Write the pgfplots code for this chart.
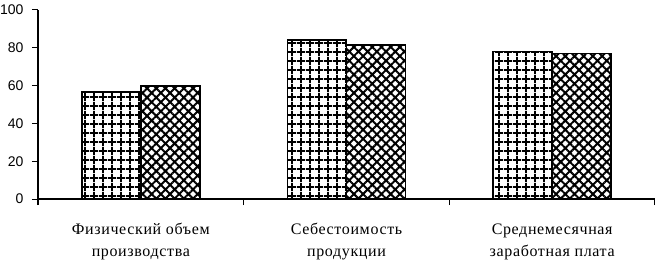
\documentclass[border=0pt]{standalone}
\usepackage{pgfplots}
\pgfplotsset{compat=1.18}
\usepackage{fontspec}
\setmainfont{Liberation Serif}
\newfontfamily\catfont[LetterSpace=4]{Liberation Serif}
\newfontfamily\tickfont{Liberation Sans}
\usetikzlibrary{patterns,patterns.meta}
\pgfdeclarepatternformonly{mygrid}{\pgfqpoint{0bp}{0bp}}{\pgfqpoint{9bp}{9bp}}{\pgfqpoint{9bp}{9bp}}{%
    \pgfsetlinewidth{2bp}%
    \pgfpathmoveto{\pgfqpoint{0bp}{4.5bp}}\pgfpathlineto{\pgfqpoint{9bp}{4.5bp}}%
    \pgfpathmoveto{\pgfqpoint{4.5bp}{0bp}}\pgfpathlineto{\pgfqpoint{4.5bp}{9bp}}%
    \pgfusepath{stroke}%
}
\begin{document}
\begin{tikzpicture}[x=1bp,y=1bp]
\path[use as bounding box] (-38bp,-64bp) rectangle (617bp,199bp);
\begin{axis}[
  at={(0,0)}, anchor=south west,
  scale only axis, width=617bp, height=189bp,
  xmin=-0.5, xmax=2.5, ymin=0, ymax=100,
  axis x line=bottom, axis y line=left,
  axis line style={-, line width=1.3bp, black},
  ytick={0,20,40,60,80,100},
  yticklabel style={font=\tickfont\fontsize{14bp}{16bp}\selectfont, xshift=-5bp},
  /pgf/number format/assume math mode=true,
  xtick={0,1,2},
  xticklabels={Физический объем\\производства, Себестоимость\\продукции, Среднемесячная\\заработная плата},
  xticklabel style={align=center, font=\catfont\fontsize{16bp}{22bp}\selectfont, yshift=-15bp},
  minor xtick={-0.5,0.5,1.5,2.5},
  x tick style={draw=none},
  minor x tick style={draw=black, line width=1.3bp},
  y tick style={black, line width=1bp},
  tick align=outside,
  major tick length=6bp, minor tick length=6bp,
  ybar=0pt, bar width=0.287,
  every axis plot/.append style={draw=black, line width=1.8bp},
  clip=false,
]
\addplot[pattern=mygrid] coordinates {(0,56.5) (1,84) (2,78)};
\addplot[pattern={Hatch[angle=45,distance=6.5bp,line width=2bp]}] coordinates {(0,59.7) (1,81.5) (2,77)};
\end{axis}
\end{tikzpicture}
\end{document}
